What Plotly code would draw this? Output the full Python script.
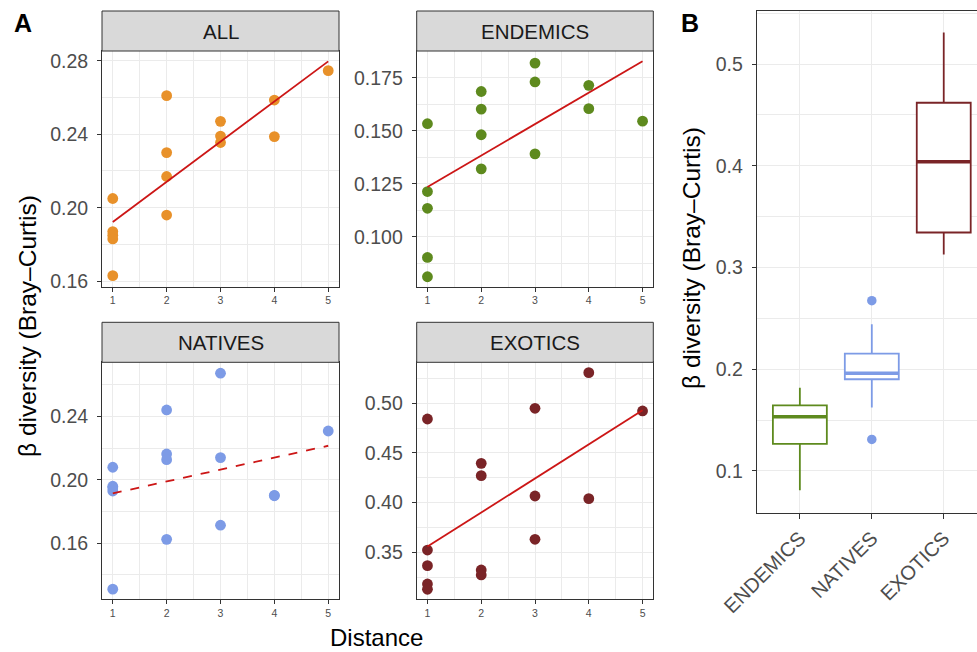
import numpy as np
import plotly.graph_objects as go

# figure is a little wider than the 977 px window so that panel B runs off the right edge
W, H = 990, 652

# ---------------- data ----------------
distance = [1, 1, 1, 1, 1, 2, 2, 2, 2, 3, 3, 3, 4, 4, 5]
all_beta = [0.205, 0.187, 0.185, 0.183, 0.163,
            0.261, 0.230, 0.217, 0.196,
            0.247, 0.239, 0.2355,
            0.2586, 0.2387,
            0.2746]
endemics_beta = [0.1533, 0.1213, 0.1134, 0.0902, 0.0811,
                 0.1685, 0.1602, 0.1481, 0.1320,
                 0.1819, 0.1730, 0.1391,
                 0.1714, 0.1604,
                 0.1545]
natives_beta = [0.208, 0.196, 0.195, 0.193, 0.131,
                0.2442, 0.2164, 0.2128, 0.1625,
                0.2674, 0.2141, 0.1714,
                0.1903, 0.1900,
                0.2309]
exotics_beta = [0.4842, 0.3523, 0.3366, 0.3181, 0.3128,
                0.4396, 0.4272, 0.3322, 0.3272,
                0.4950, 0.4067, 0.3631,
                0.5309, 0.4040,
                0.4923]

panel_names = ["ALL", "ENDEMICS", "NATIVES", "EXOTICS"]
panel_values = [all_beta, endemics_beta, natives_beta, exotics_beta]
panel_colors = ["#E8912A", "#5E8A1E", "#7D9BE6", "#7A2427"]
fit_significant = [True, True, False, True]
distance_ticks = [1, 2, 3, 4, 5]

group_names = ["ENDEMICS", "NATIVES", "EXOTICS"]
group_values = [endemics_beta, natives_beta, exotics_beta]
group_colors = ["#5E8A1E", "#7D9BE6", "#7A2427"]
b_ticks = [0.1, 0.2, 0.3, 0.4, 0.5]

# ---------------- layout geometry (pixels) ----------------
FONT = "Liberation Sans, Arial, Helvetica, sans-serif"
TICKCOL = "#4D4D4D"
FRAME = "#333333"
GRID = "#EBEBEB"
FIT = "#CC1616"
TICK_SIZE = 19.5

panel_px = [  # x0, x1, y0(top), y1(bottom)
    (102.0, 339.0, 51.0, 286.5),
    (416.7, 653.3, 51.0, 286.5),
    (102.0, 339.0, 362.3, 599.0),
    (416.7, 653.3, 362.3, 599.0),
]
y_ranges = [(0.1571, 0.2853), (0.0765, 0.1876), (0.1248, 0.2743), (0.3030, 0.5413)]
y_dticks = [0.04, 0.025, 0.04, 0.05]
y_formats = [".2f", ".3f", ".2f", ".2f"]
strip_h = 40.0

B_px = (756.7, 986.9, 11.0, 512.7)
B_yrange = (0.059, 0.5521)
B_xrange = (-0.6, 2.6)


def xd(x0, x1):
    return [x0 / W, x1 / W]


def yd(y0, y1):
    return [1 - y1 / H, 1 - y0 / H]


fig = go.Figure()
shapes = []
annotations = []
layout = {}

for i, (name, vals, col, sig) in enumerate(zip(panel_names, panel_values, panel_colors, fit_significant)):
    k = i + 1
    xa = "x" if k == 1 else f"x{k}"
    ya = "y" if k == 1 else f"y{k}"
    fig.add_trace(go.Scatter(x=distance, y=vals, mode="markers", xaxis=xa, yaxis=ya,
                             marker=dict(color=col, size=10.8, line=dict(width=0)),
                             showlegend=False, hoverinfo="x+y"))
    slope, icpt = np.polyfit(distance, vals, 1)
    xs = np.array([min(distance), max(distance)], dtype=float)
    fig.add_trace(go.Scatter(x=xs, y=icpt + slope * xs, mode="lines", xaxis=xa, yaxis=ya,
                             line=dict(color=FIT, width=1.8, dash="solid" if sig else "dash"),
                             showlegend=False, hoverinfo="skip"))
    x0, x1, y0, y1 = panel_px[i]
    kx = "xaxis" if k == 1 else f"xaxis{k}"
    ky = "yaxis" if k == 1 else f"yaxis{k}"
    layout[kx] = dict(domain=xd(x0, x1), range=[0.8, 5.2], anchor=ya, automargin=False,
                      tickmode="array", tickvals=distance_ticks,
                      ticks="outside", ticklen=4, tickwidth=1.2, tickcolor=FRAME,
                      tickfont=dict(size=10.5, color=TICKCOL, family=FONT),
                      showgrid=True, gridcolor=GRID, gridwidth=1.2,
                      minor=dict(showgrid=True, dtick=0.5, tick0=0, gridcolor=GRID, gridwidth=0.8),
                      showline=True, mirror=True, linecolor=FRAME, linewidth=1,
                      zeroline=False, fixedrange=True)
    layout[ky] = dict(domain=yd(y0, y1), range=list(y_ranges[i]), anchor=xa, automargin=False,
                      tick0=0, dtick=y_dticks[i], tickformat=y_formats[i],
                      ticks="outside", ticklen=4, tickwidth=1.2, tickcolor=FRAME,
                      ticklabelstandoff=5,
                      tickfont=dict(size=TICK_SIZE, color=TICKCOL, family=FONT),
                      showgrid=True, gridcolor=GRID, gridwidth=1.2,
                      minor=dict(showgrid=True, dtick=y_dticks[i] / 2, tick0=0, gridcolor=GRID, gridwidth=0.8),
                      showline=True, mirror=True, linecolor=FRAME, linewidth=1,
                      zeroline=False, fixedrange=True)
    # strip
    shapes.append(dict(type="rect", xref="paper", yref="paper",
                       x0=x0 / W, x1=x1 / W, y0=1 - y0 / H, y1=1 - (y0 - strip_h) / H,
                       fillcolor="#D9D9D9", line=dict(color=FRAME, width=1), layer="above"))
    annotations.append(dict(text=name, xref="paper", yref="paper",
                            x=(x0 + x1) / 2 / W, y=1 - (y0 - strip_h / 2) / H,
                            xanchor="center", yanchor="middle", showarrow=False,
                            font=dict(size=20.5, color="#1A1A1A", family=FONT)))

# ---------------- panel B: boxplots ----------------
bx0, bx1, by0, by1 = B_px
box_width = 0.75
for j, (g, vals, col) in enumerate(zip(group_names, group_values, group_colors)):
    fig.add_trace(go.Box(y=vals, x=[j] * len(vals), xaxis="x5", yaxis="y5",
                         width=box_width, fillcolor="white",
                         line=dict(color=col, width=1.8), whiskerwidth=0,
                         boxpoints="outliers", pointpos=0, jitter=0,
                         marker=dict(color=col, size=9.5, line=dict(width=0)),
                         quartilemethod="inclusive", showlegend=False, name=g))
    med = float(np.median(vals))
    fig.add_trace(go.Scatter(x=[j - box_width / 2, j + box_width / 2], y=[med, med],
                             mode="lines", xaxis="x5", yaxis="y5",
                             line=dict(color=col, width=3.6), showlegend=False, hoverinfo="skip"))

layout["xaxis5"] = dict(domain=xd(bx0, bx1), range=list(B_xrange), anchor="y5", automargin=False,
                        tickmode="array", tickvals=list(range(len(group_names))), ticktext=group_names,
                        tickangle=-45, ticks="outside", ticklen=5, tickwidth=1.2, tickcolor=FRAME,
                        tickfont=dict(size=20, color=TICKCOL, family=FONT),
                        showgrid=True, gridcolor=GRID, gridwidth=1.2,
                        showline=True, mirror=True, linecolor=FRAME, linewidth=1,
                        zeroline=False, fixedrange=True)
layout["yaxis5"] = dict(domain=yd(by0, by1), range=list(B_yrange), anchor="x5", automargin=False,
                        tickmode="array", tickvals=b_ticks, tickformat=".1f",
                        ticks="outside", ticklen=4, tickwidth=1.2, tickcolor=FRAME,
                        ticklabelstandoff=5,
                        tickfont=dict(size=TICK_SIZE, color=TICKCOL, family=FONT),
                        showgrid=True, gridcolor=GRID, gridwidth=1.2,
                        minor=dict(showgrid=True, dtick=0.05, tick0=0, gridcolor=GRID, gridwidth=0.8),
                        showline=True, mirror=True, linecolor=FRAME, linewidth=1,
                        zeroline=False, fixedrange=True)

# ---------------- titles & panel letters ----------------
annotations += [
    dict(text="<b>A</b>", xref="paper", yref="paper", x=23 / W, y=1 - 23.5 / H,
         xanchor="center", yanchor="middle", showarrow=False,
         font=dict(size=25, color="black", family=FONT)),
    dict(text="<b>B</b>", xref="paper", yref="paper", x=690 / W, y=1 - 23.5 / H,
         xanchor="center", yanchor="middle", showarrow=False,
         font=dict(size=25, color="black", family=FONT)),
    dict(text="Distance", xref="paper", yref="paper", x=376.5 / W, y=1 - 637 / H,
         xanchor="center", yanchor="middle", showarrow=False,
         font=dict(size=24, color="black", family=FONT)),
    dict(text="β diversity (Bray–Curtis)", xref="paper", yref="paper", x=27 / W, y=1 - 326 / H,
         xanchor="center", yanchor="middle", showarrow=False, textangle=-90,
         font=dict(size=24.5, color="black", family=FONT)),
    dict(text="β diversity (Bray–Curtis)", xref="paper", yref="paper", x=692 / W, y=1 - 258 / H,
         xanchor="center", yanchor="middle", showarrow=False, textangle=-90,
         font=dict(size=24.5, color="black", family=FONT)),
]

fig.update_layout(width=W, height=H, margin=dict(l=0, r=0, t=0, b=0, autoexpand=False),
                  paper_bgcolor="white", plot_bgcolor="white",
                  font=dict(family=FONT), boxmode="overlay",
                  shapes=shapes, annotations=annotations, **layout)

fig.write_html("out.html", config={"displayModeBar": False},
               post_script="document.body.style.margin='0px';document.body.style.overflow='hidden';")
